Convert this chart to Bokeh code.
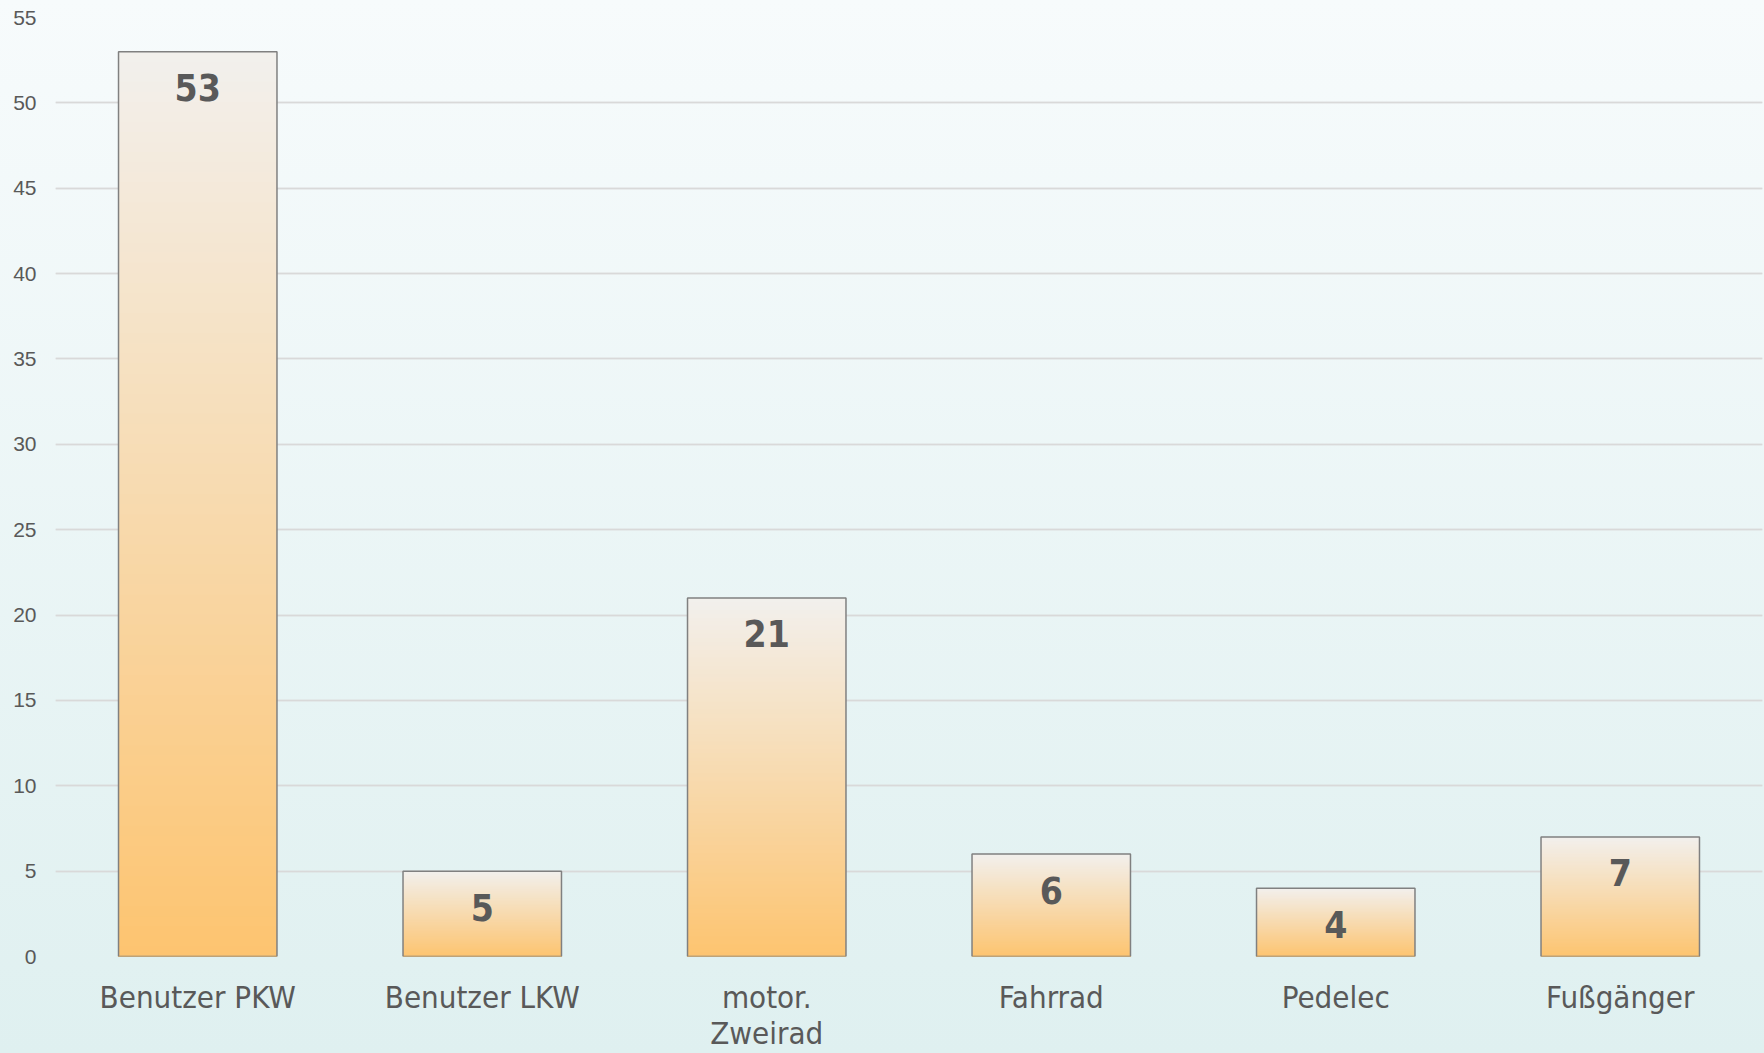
from bokeh.plotting import figure
from bokeh.models import (ColumnDataSource, LabelSet, Range1d, SingleIntervalTicker,
                          FixedTicker, Grid, FactorRange)
from bokeh.core.properties import value
from bokeh.embed import file_html
from bokeh.resources import INLINE

# ---- data ----
categories = ["Benutzer PKW", "Benutzer LKW", "motor.\nZweirad", "Fahrrad", "Pedelec", "Fußgänger"]
values = [53, 5, 21, 6, 4, 7]
y_max = 55

# ---- style ----
TOP_COLOR = (242, 240, 237)
BOTTOM_COLOR = (253, 196, 112)
TEXT = "#595959"
N_SLICES = 90


def mix(t):
    r, g, b = (round(BOTTOM_COLOR[k] + (TOP_COLOR[k] - BOTTOM_COLOR[k]) * t) for k in range(3))
    return "#%02x%02x%02x" % (r, g, b)


p = figure(width=1764, height=1053, x_range=FactorRange(factors=categories, range_padding=0),
           y_range=Range1d(0, y_max), output_backend="svg", toolbar_location=None,
           min_border_left=55, min_border_right=2, min_border_top=17, min_border_bottom=97)
p.background_fill_alpha = 0
p.border_fill_alpha = 0
p.outline_line_color = None
p.styles = {"background": "linear-gradient(to bottom, #f7fbfc 0%, #dff0f0 100%)"}

# minor grid (every 2 units)
minor = Grid(dimension=1, ticker=FixedTicker(ticks=[v for v in range(0, y_max + 1, 2) if v % 10]),
             grid_line_color="#eaeded", grid_line_width=1.5)
p.add_layout(minor)

p.xgrid.grid_line_color = None
p.ygrid.grid_line_color = "#d9d9d9"
p.ygrid.grid_line_width = 1.5
p.ygrid.ticker = SingleIntervalTicker(interval=5)
p.ygrid.level = "underlay"

# gradient bars: overlapping slices painted from top colour down to bottom colour
xs, tops, cols = [], [], []
for c, v in zip(categories, values):
    for i in range(N_SLICES):
        frac = (N_SLICES - i) / N_SLICES
        xs.append(c)
        tops.append(v * frac)
        cols.append(mix((N_SLICES - i - 0.5) / N_SLICES))
p.vbar(x=xs, top=tops, bottom=0, width=0.557, fill_color=cols, line_color=None)

src = ColumnDataSource(dict(x=categories, v=values, label=[str(v) for v in values]))
p.vbar(x="x", top="v", bottom=0, width=0.557, source=src, fill_alpha=0,
       line_color="#808080", line_width=1.5)

labels = LabelSet(x="x", y="v", text="label", source=src, y_offset=-36,
                  text_align="center", text_baseline="middle",
                  text_font=value("DejaVu Sans Condensed"), text_font_style="bold",
                  text_font_size="37px", text_color=TEXT)
p.add_layout(labels)

# axes
p.yaxis.ticker = SingleIntervalTicker(interval=5)
p.yaxis.axis_line_color = None
p.yaxis.major_tick_line_color = None
p.yaxis.major_tick_out = 0
p.yaxis.minor_tick_line_color = None
p.yaxis.major_label_standoff = 15
p.yaxis.major_label_text_font = "Liberation Sans"
p.yaxis.major_label_text_font_size = "21px"
p.yaxis.major_label_text_color = TEXT

p.xaxis.axis_line_color = None
p.xaxis.major_tick_line_color = None
p.xaxis.major_tick_out = 0
p.xaxis.major_label_standoff = 22
p.xaxis.major_label_text_font = "DejaVu Sans Condensed"
p.xaxis.major_label_text_font_size = "31px"
p.xaxis.major_label_text_line_height = 1.0
p.xaxis.major_label_text_color = TEXT

open("out.html", "w").write(file_html(p, INLINE))
